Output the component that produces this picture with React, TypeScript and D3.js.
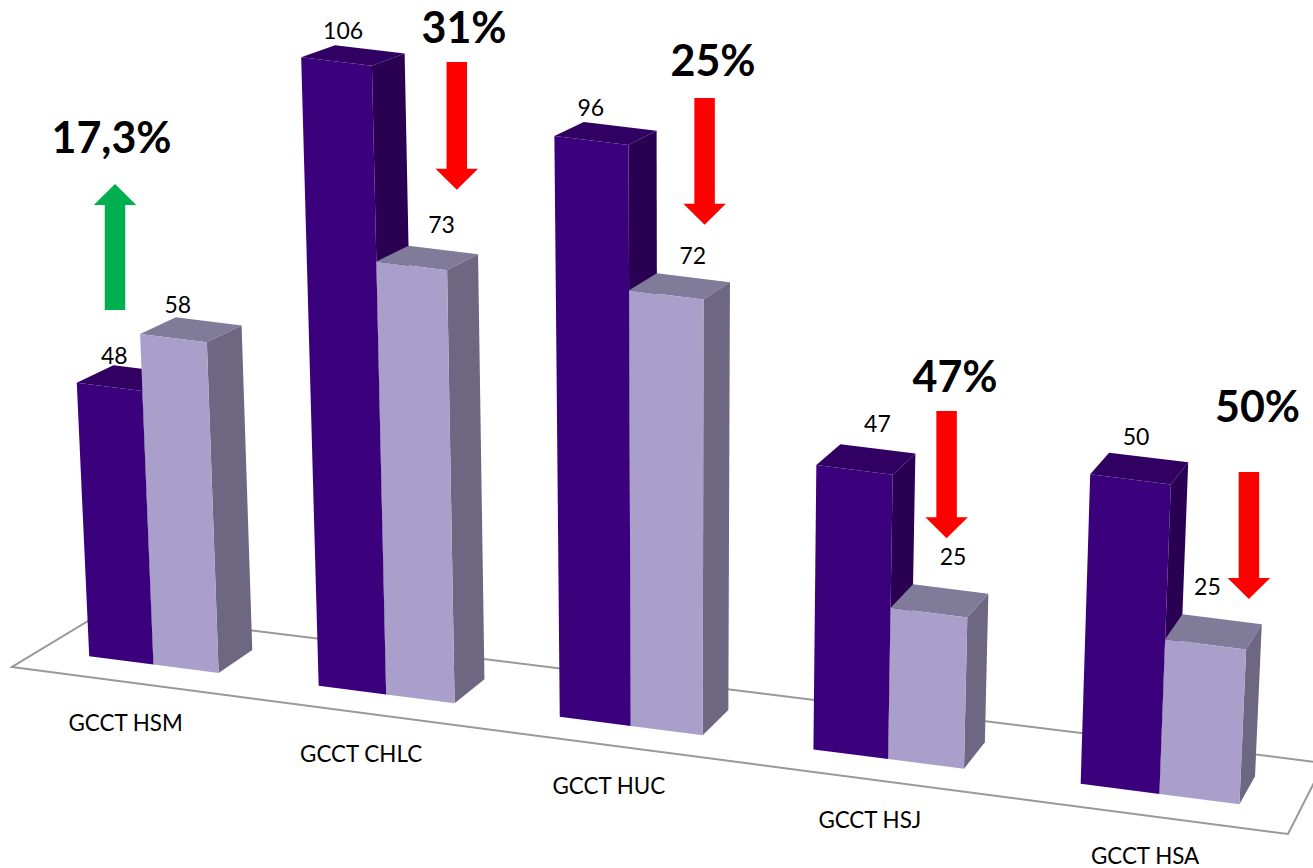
import React from "react";
import * as d3 from "d3";

// Chart values
const categories = ["GCCT HSM", "GCCT CHLC", "GCCT HUC", "GCCT HSJ", "GCCT HSA"];
const firstSeries = [48, 106, 96, 47, 50];
const secondSeries = [58, 73, 72, 25, 25];

// Floor corners on screen: front-left, front-right, back-right, back-left
const floorCorners: [number, number][] = [[12, 667], [1288, 834], [1324, 763], [103, 612]];
// Screen pixels per unit of value, growing towards the nearer categories
const unitHeights = [5.7, 5.93, 6.05, 6.05, 6.19];
const vanishingX = 680;
const leanPerPixel = 7.7e-5;
const depthFront = 0.3;
const depthBack = 0.7;

// Value label offsets from the back-left corner of each bar's top
const firstLabelNudge: [number, number][] = [[1, -10], [8, -15], [7, -14], [37, -21], [27, -16]];
const secondLabelNudge: [number, number][] = [[2, -13], [33, -21], [36, -18], [40, -28], [25, -28]];

// Hand-placed change callouts
const changeTexts = ["17,3%", "31%", "25%", "47%", "50%"];
const changeTextAt: [number, number][] = [[111.5, 138], [464, 28], [713, 61], [955, 377], [1257.5, 407]];
const arrowCenter = [115, 456.8, 704.6, 946.6, 1248.9];
const arrowStart = [310, 62, 98, 411, 472];
const arrowTip = [184, 189.7, 224.7, 538.3, 599];
const arrowColors = ["#00B050", "#FF0000", "#FF0000", "#FF0000", "#FF0000"];

const firstColors = { front: "#3B007C", top: "#300062", side: "#2A0052" };
const secondColors = { front: "#A99FCA", top: "#817B9A", side: "#6D6782" };
const fontFamily = "Lato, Carlito, Calibri, sans-serif";

// Projective map of the unit floor square onto the screen
function makeFloorProjection(c: [number, number][]) {
  const [[x0, y0], [x1, y1], [x2, y2], [x3, y3]] = c;
  const dx1 = x1 - x2, dy1 = y1 - y2, dx2 = x3 - x2, dy2 = y3 - y2;
  const sx = x0 - x1 + x2 - x3, sy = y0 - y1 + y2 - y3;
  const den = dx1 * dy2 - dx2 * dy1;
  const g = (sx * dy2 - dx2 * sy) / den;
  const h = (dx1 * sy - sx * dy1) / den;
  const a = x1 - x0 + g * x1, b = x3 - x0 + h * x3;
  const d = y1 - y0 + g * y1, e = y3 - y0 + h * y3;
  return (u: number, v: number): [number, number] => {
    const w = 1 + g * u + h * v;
    return [(a * u + b * v + x0) / w, (d * u + e * v + y0) / w];
  };
}

const floor = makeFloorProjection(floorCorners);
const groupBand = d3.scaleBand<string>().domain(categories).range([0.001, 1.001]).paddingInner(0.43).paddingOuter(0.215);
const unitHeight = d3.scaleOrdinal<string, number>().domain(categories).range(unitHeights);
const depthShrink = d3.scaleLinear().domain([depthFront, depthBack]).range([1, 0.982]);
const polygon = (pts: [number, number][]) => d3.line()(pts) + "Z";

// Point raised above the floor along the slightly converging verticals
function raised(u: number, v: number, value: number, perUnit: number): [number, number] {
  const [x, y] = floor(u, v);
  const h = value * perUnit * depthShrink(v);
  return [x + h * (x - vanishingX) * leanPerPixel, y - h];
}

function Bar({ u0, u1, value, perUnit, colors }: any) {
  const base = (u: number, v: number) => floor(u, v);
  const top = (u: number, v: number) => raised(u, v, value, perUnit);
  return (
    <g>
      <path d={polygon([top(u0, depthFront), top(u1, depthFront), top(u1, depthBack), top(u0, depthBack)])} fill={colors.top} />
      <path d={polygon([base(u1, depthFront), base(u1, depthBack), top(u1, depthBack), top(u1, depthFront)])} fill={colors.side} />
      <path d={polygon([base(u0, depthFront), base(u1, depthFront), top(u1, depthFront), top(u0, depthFront)])} fill={colors.front} />
    </g>
  );
}

export default function App() {
  const barWidth = groupBand.bandwidth() / 2;
  return (
    <svg width={1313} height={868} viewBox="0 0 1313 868" style={{ position: "absolute", left: 0, top: 0, background: "#fff" }} fontFamily={fontFamily}>
      <path d={polygon(floorCorners)} fill="#fff" stroke="#999999" strokeWidth={2} />

      {categories.map((cat, i) => {
        const start = groupBand(cat) as number;
        const mid = start + barWidth;
        const end = mid + barWidth;
        const perUnit = unitHeight(cat);
        return (
          <g key={cat}>
            <Bar u0={start} u1={mid} value={firstSeries[i]} perUnit={perUnit} colors={firstColors} />
            <Bar u0={mid} u1={end} value={secondSeries[i]} perUnit={perUnit} colors={secondColors} />
          </g>
        );
      })}

      {categories.map((cat) => {
        const start = groupBand(cat) as number;
        const [x, y] = floor(start + groupBand.bandwidth() / 2, 0);
        return (
          <text key={cat} x={x - 1} y={y + 49} textAnchor="middle" fontSize={22.4} fill="#000">{cat}</text>
        );
      })}

      {categories.map((cat, i) => {
        const start = groupBand(cat) as number;
        const perUnit = unitHeight(cat);
        const a = raised(start, depthBack, firstSeries[i], perUnit);
        const b = raised(start + barWidth, depthBack, secondSeries[i], perUnit);
        return (
          <g key={cat} fontSize={23} fill="#000" textAnchor="middle">
            <text x={a[0] + firstLabelNudge[i][0]} y={a[1] + firstLabelNudge[i][1] + 8.5}>{firstSeries[i]}</text>
            <text x={b[0] + secondLabelNudge[i][0]} y={b[1] + secondLabelNudge[i][1] + 8.5}>{secondSeries[i]}</text>
          </g>
        );
      })}

      {changeTexts.map((t, i) => (
        <text key={t} x={changeTextAt[i][0]} y={changeTextAt[i][1] + 15} textAnchor="middle" fontSize={43} fontWeight={700} fill="#000">{t}</text>
      ))}

      {arrowCenter.map((cx, i) => {
        const dir = Math.sign(arrowTip[i] - arrowStart[i]);
        const neck = arrowTip[i] - dir * 21;
        const pts: [number, number][] = [
          [cx - 10.25, arrowStart[i]],
          [cx + 10.25, arrowStart[i]],
          [cx + 10.25, neck],
          [cx + 21.25, neck],
          [cx, arrowTip[i]],
          [cx - 21.25, neck],
          [cx - 10.25, neck],
        ];
        return <path key={i} d={polygon(pts)} fill={arrowColors[i]} />;
      })}
    </svg>
  );
}
